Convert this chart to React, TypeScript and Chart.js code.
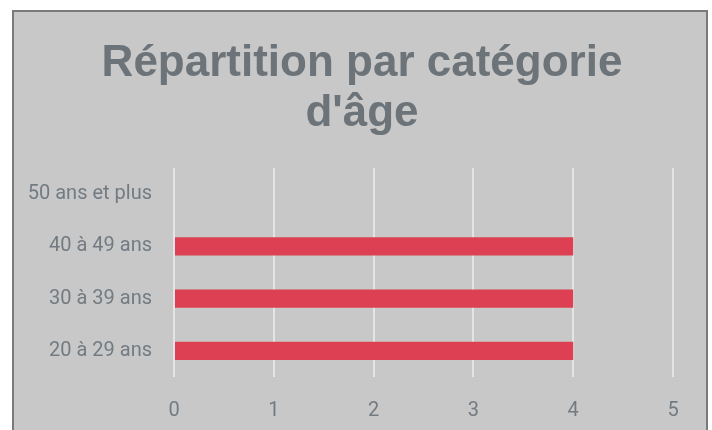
import React, { useEffect, useRef } from "react";
import { Chart, registerables } from "chart.js";

Chart.register(...registerables);

const categories = ["50 ans et plus", "40 à 49 ans", "30 à 39 ans", "20 à 29 ans"];
const values = [0, 4, 4, 4];
const titleLines = ["Répartition par catégorie", "d'âge"];

const titlePlugin = {
  id: "customTitle",
  afterDraw(chart: any) {
    const ctx = chart.ctx as CanvasRenderingContext2D;
    ctx.save();
    ctx.fillStyle = "#6c747a";
    ctx.font = "bold 44px 'Liberation Sans', Arial, sans-serif";
    ctx.textAlign = "center";
    ctx.textBaseline = "middle";
    const cx = chart.width / 2 + 2;
    titleLines.forEach((line, i) => {
      ctx.fillText(line, cx, 52 + i * 50);
    });
    ctx.restore();
  },
};

export default function App() {
  const ref = useRef<HTMLCanvasElement | null>(null);
  useEffect(() => {
    if (!ref.current) return;
    const chart = new Chart(ref.current, {
      type: "bar",
      data: {
        labels: categories,
        datasets: [
          {
            data: values,
            backgroundColor: "#dc4052",
            barPercentage: 0.7,
            categoryPercentage: 0.5,
          },
        ],
      },
      options: {
        indexAxis: "y",
        animation: false,
        responsive: false,
        layout: { padding: { left: 15, right: 33, top: 156, bottom: 3 } },
        plugins: {
          legend: { display: false },
          tooltip: { enabled: false },
          title: { display: false },
        },
        scales: {
          x: {
            min: 0,
            max: 5,
            ticks: {
              stepSize: 1,
              color: "#737b82",
              font: { family: "Roboto", size: 20 },
              padding: 22,
            },
            grid: { color: "#e4e4e4", lineWidth: 2, drawTicks: false },
            border: { display: false },
          },
          y: {
            afterFit: (scale: any) => {
              scale.width = 145;
            },
            ticks: {
              color: "#737b82",
              font: { family: "Roboto", size: 20 },
              padding: 22,
            },
            grid: { display: false, drawTicks: false },
            border: { display: false },
          },
        },
      },
      plugins: [titlePlugin],
    });
    return () => chart.destroy();
  }, []);
  return (
    <div
      style={{
        position: "absolute",
        left: 12,
        top: 10,
        width: 696,
        height: 440,
        boxSizing: "border-box",
        border: "2px solid #7a7a7a",
        background: "#c8c8c8",
      }}
    >
      <canvas ref={ref} width={692} height={436} style={{ display: "block" }} />
    </div>
  );
}
